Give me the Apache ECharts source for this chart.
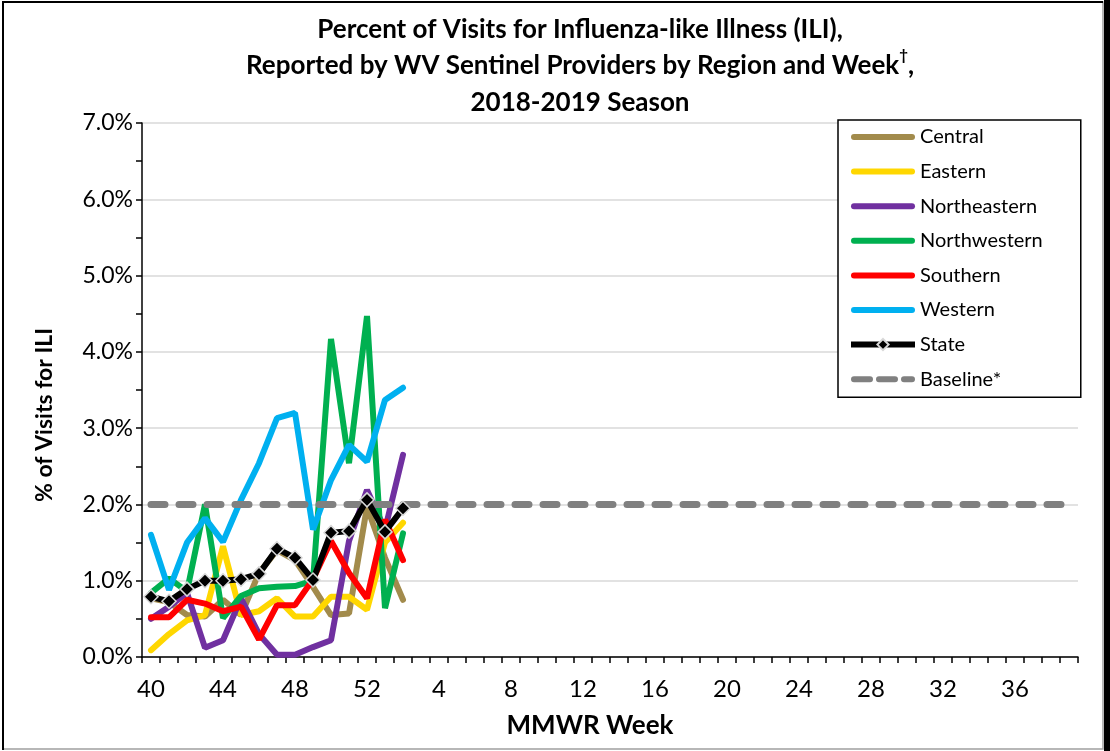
<!DOCTYPE html>
<html>
<head>
<meta charset="utf-8">
<script src="https://cdn.jsdelivr.net/npm/echarts@6/dist/echarts.min.js"></script>
<style>
  html, body { margin: 0; padding: 0; background: #fff; }
  #chart { width: 1110px; height: 751px; }
</style>
</head>
<body>
<div id="chart"></div>
<script>
// MMWR weeks of the season, 40 .. 52 then 1 .. 39
const weeks = ['40', '41', '42', '43', '44', '45', '46', '47', '48', '49', '50', '51', '52',
  '1', '2', '3', '4', '5', '6', '7', '8', '9', '10', '11', '12', '13', '14', '15', '16',
  '17', '18', '19', '20', '21', '22', '23', '24', '25', '26', '27', '28', '29', '30',
  '31', '32', '33', '34', '35', '36', '37', '38', '39'];

// % of visits for ILI, weeks 40 .. 2
const central      = [0.77, 0.72, 0.55, 0.53, 0.75, 0.55, 1.10, 1.40, 1.27, 0.92, 0.55, 0.57, 1.97, 1.30, 0.75];
const eastern      = [0.09, 0.30, 0.48, 0.55, 1.45, 0.55, 0.60, 0.77, 0.53, 0.53, 0.79, 0.79, 0.62, 1.50, 1.76];
const northeastern = [0.50, 0.66, 0.84, 0.12, 0.22, 0.77, 0.30, 0.03, 0.03, 0.13, 0.22, 1.52, 2.19, 1.67, 2.65];
const northwestern = [0.84, 1.03, 0.86, 2.00, 0.51, 0.80, 0.90, 0.92, 0.93, 1.00, 4.17, 2.54, 4.47, 0.64, 1.62];
const southern     = [0.52, 0.52, 0.75, 0.70, 0.60, 0.66, 0.23, 0.68, 0.68, 1.02, 1.52, 1.10, 0.77, 1.80, 1.27];
const western      = [1.60, 0.88, 1.50, 1.82, 1.51, 2.06, 2.54, 3.13, 3.20, 1.67, 2.32, 2.78, 2.56, 3.37, 3.53];
const state        = [0.79, 0.73, 0.89, 1.00, 1.00, 1.02, 1.09, 1.42, 1.30, 1.01, 1.63, 1.65, 2.06, 1.64, 1.95];

// baseline runs across the whole season
const baselineWeeks = ['40', '39'];
const baselineValues = [2.0, 2.0];

const FONT = 'Lato, "Open Sans", sans-serif';

// legend icons: a thick round-ended stroke, and the same stroke broken into dashes
const ICON_LINE = 'path://M3,0H61A3,3 0 0 1 61,6H3A3,3 0 0 1 3,0Z';
const ICON_DASH = 'path://M3,0H19A3,3 0 0 1 19,6H3A3,3 0 0 1 3,0Z' +
  'M28,0H44A3,3 0 0 1 44,6H28A3,3 0 0 1 28,0Z' +
  'M53,0H61A3,3 0 0 1 61,6H53A3,3 0 0 1 53,0Z';

let echart = echarts.init(document.getElementById('chart'));

function regionLine(name, data, color) {
  return {
    name: name,
    type: 'line',
    data: data,
    symbol: 'none',
    lineStyle: { color: color, width: 6, cap: 'round' },
    itemStyle: { color: color }
  };
}

let option = {
  animation: false,
  backgroundColor: '#fff',
  title: {
    text: 'Percent of Visits for Influenza-like Illness (ILI),\nReported by WV Sentinel Providers by Region and Week{sup|†},\n2018-2019 Season',
    left: 575,
    top: 6,
    textAlign: 'center',
    textStyle: {
      fontFamily: FONT,
      fontSize: 26,
      fontWeight: 'bold',
      color: '#000',
      lineHeight: 36.5,
      rich: {
        sup: { fontFamily: FONT, fontSize: 15, fontWeight: 'bold', verticalAlign: 'top', lineHeight: 30 }
      }
    }
  },
  grid: { left: 142, top: 123, width: 936, height: 534 },
  legend: {
    orient: 'vertical',
    left: 838,
    top: 120,
    padding: [5, 38, 6, 10],
    borderColor: '#000',
    borderWidth: 1.5,
    backgroundColor: '#fff',
    itemWidth: 64,
    itemHeight: 14,
    itemGap: 10.6,
    textStyle: { fontFamily: FONT, fontSize: 20, color: '#000', lineHeight: 24 },
    data: [
      { name: 'Central', icon: ICON_LINE },
      { name: 'Eastern', icon: ICON_LINE },
      { name: 'Northeastern', icon: ICON_LINE },
      { name: 'Northwestern', icon: ICON_LINE },
      { name: 'Southern', icon: ICON_LINE },
      { name: 'Western', icon: ICON_LINE },
      { name: 'State', lineStyle: { width: 6, color: '#000' } },
      { name: 'Baseline*', icon: ICON_DASH }
    ]
  },
  xAxis: {
    type: 'category',
    data: weeks,
    boundaryGap: true,
    name: 'MMWR Week',
    nameLocation: 'middle',
    nameGap: 56,
    nameTextStyle: { fontFamily: FONT, fontSize: 26, fontWeight: 'bold', color: '#000', padding: [0, 40, 0, 0] },
    axisLine: { lineStyle: { color: '#000', width: 1.5 } },
    axisTick: { show: true, interval: 0, length: 6, lineStyle: { color: '#000', width: 1.5 } },
    axisLabel: { interval: 3, margin: 20, fontFamily: FONT, fontSize: 24, color: '#000' },
    splitLine: { show: false }
  },
  yAxis: {
    type: 'value',
    min: 0,
    max: 7,
    interval: 1,
    name: '% of Visits for ILI',
    nameLocation: 'middle',
    nameRotate: 90,
    nameGap: 86,
    nameTextStyle: { fontFamily: FONT, fontSize: 23, fontWeight: 'bold', color: '#000', padding: [0, 50, 0, 0] },
    axisLine: { show: true, lineStyle: { color: '#000', width: 1.5 } },
    axisTick: { show: true, length: 6, lineStyle: { color: '#000', width: 1.5 } },
    minorTick: { show: true, splitNumber: 2, length: 6, lineStyle: { color: '#000', width: 1.5 } },
    axisLabel: {
      margin: 9,
      fontFamily: FONT,
      fontSize: 23,
      color: '#000',
      formatter: v => v.toFixed(1) + '%'
    },
    splitLine: { show: true, lineStyle: { color: '#d9d9d9', width: 1.5 } }
  },
  series: [
    regionLine('Central', central, '#A28B4C'),
    regionLine('Eastern', eastern, '#FFD700'),
    regionLine('Northeastern', northeastern, '#7030A0'),
    regionLine('Northwestern', northwestern, '#00B050'),
    regionLine('Southern', southern, '#FF0000'),
    regionLine('Western', western, '#00B0F0'),
    {
      name: 'Baseline*',
      type: 'line',
      data: baselineWeeks.map((w, i) => [w, baselineValues[i]]),
      symbol: 'none',
      lineStyle: { color: '#808080', width: 7, type: [14, 14], cap: 'round' },
      itemStyle: { color: '#808080' }
    },
    {
      name: 'State',
      type: 'line',
      data: state,
      symbol: 'diamond',
      symbolSize: 14,
      showAllSymbol: true,
      lineStyle: { color: '#000', width: 6 },
      itemStyle: { color: '#000', borderColor: '#d8d8d8', borderWidth: 1.5 }
    }
  ],
  graphic: [
    { type: 'rect', shape: { x: 3, y: 2, width: 1100, height: 747 }, style: { fill: 'none', stroke: '#a0a0a0', lineWidth: 1.5 }, silent: true },
    { type: 'line', shape: { x1: 3, y1: 1, x2: 3, y2: 750 }, style: { stroke: '#000', lineWidth: 2 }, silent: true },
    { type: 'line', shape: { x1: 2, y1: 2, x2: 1103, y2: 2 }, style: { stroke: '#000', lineWidth: 2 }, silent: true },
    { type: 'rect', shape: { x: 1104, y: 0, width: 6, height: 751 }, style: { fill: '#000' }, silent: true }
  ]
};

echart.setOption(option);
</script>
</body>
</html>
